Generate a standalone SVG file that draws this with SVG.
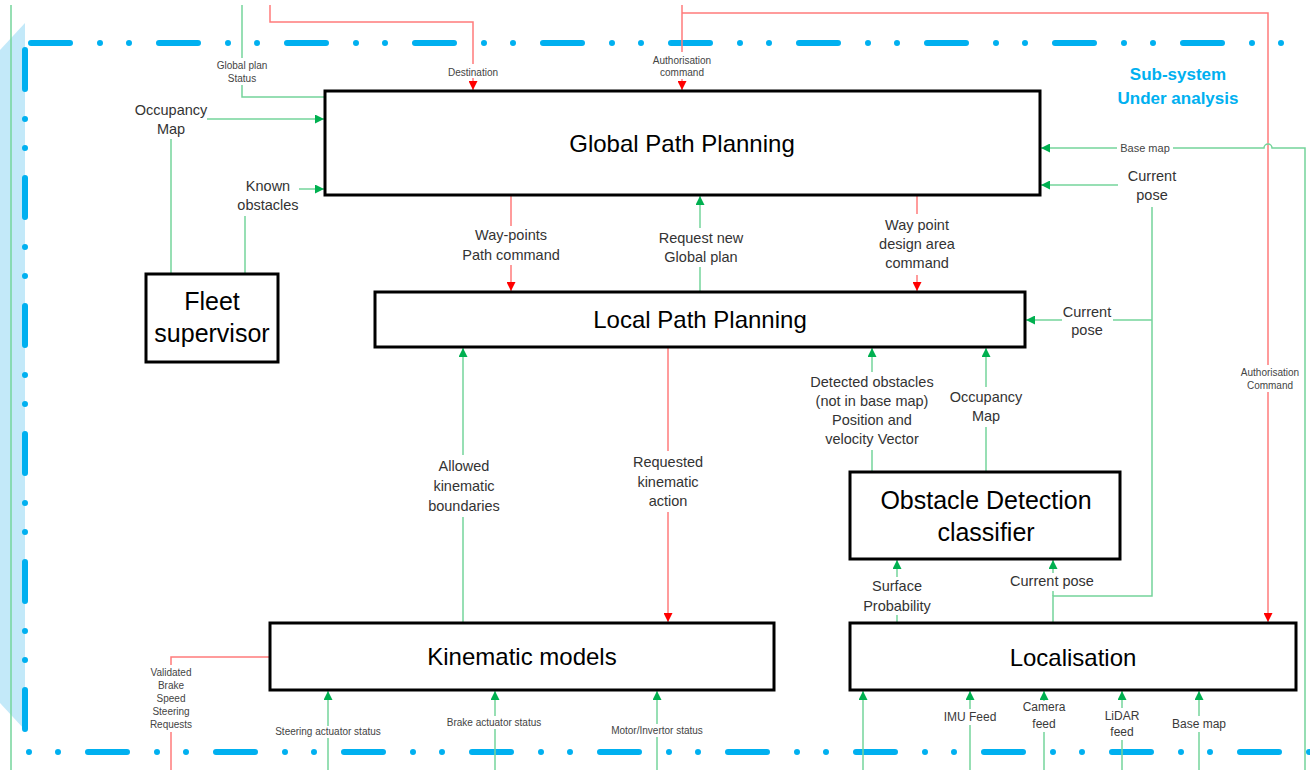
<svg xmlns="http://www.w3.org/2000/svg" width="1310" height="770" viewBox="0 0 1310 770">
  <defs>
    <marker id="ag" viewBox="0 0 9 9" markerUnits="userSpaceOnUse" markerWidth="9" markerHeight="9" refX="9" refY="4.5" orient="auto">
      <path d="M0,0 L9,4.5 L0,9 z" fill="#00b050"/>
    </marker>
    <marker id="ar" viewBox="0 0 9 9" markerUnits="userSpaceOnUse" markerWidth="9" markerHeight="9" refX="9" refY="4.5" orient="auto">
      <path d="M0,0 L9,4.5 L0,9 z" fill="#ff0000"/>
    </marker>
    <style>
      .g{fill:none;stroke:#74d49b;stroke-width:1.5}
      .r{fill:none;stroke:#ff7b7b;stroke-width:1.5}
      .ga{marker-end:url(#ag)}
      .ra{marker-end:url(#ar)}
      .box{fill:#fff;stroke:#000;stroke-width:3}
      .border{fill:none;stroke:#00b0f0;stroke-width:6;stroke-linecap:round}
      .dash1{stroke-dasharray:39 30 0 29 0 30}
      .dash2{stroke-dasharray:0 29 0 30 39 30}
      text{font-family:"Liberation Sans",Arial,sans-serif;text-anchor:middle}
      .t{font-size:24px;fill:#000}
      .t2{font-size:25px;fill:#000}
      .l{font-size:14.5px;fill:#333}
      .m{font-size:12px;fill:#3a3a3a}
      .s{font-size:10px;fill:#444}
      .sub{font-size:17px;font-weight:bold;fill:#00b0f0}
    </style>
  </defs>

  <rect width="1310" height="770" fill="#fff"/>

  <!-- sub-system boundary -->
  <g id="boundary">
    <polygon points="0,50 25,23 25,730 0,703" fill="#c3e9f9"/>
    <path class="border dash1" d="M31,43 H1310"/>
    <path class="border dash1" d="M25,50 V730"/>
    <path class="border dash2" d="M29,752 H1310"/>
    <text class="sub" x="1178" y="80">Sub-system</text>
    <text class="sub" x="1178" y="104">Under analysis</text>
  </g>

  <!-- connectors -->
  <g id="connectors">
    <!-- left edge feed -->
    <path class="g" d="M11,5 V770"/>

    <!-- Fleet supervisor to Global Path Planning -->
    <path class="g" d="M242,5 V58"/>
    <path class="g" d="M242,85 V97 H324"/>
    <path class="g" d="M171,273 V139"/>
    <path class="g ga" d="M207,119 H324"/>
    <path class="g" d="M245,273 V216"/>
    <path class="g ga" d="M299,189 H324"/>

    <!-- external commands -->
    <path class="r" d="M270,5 V22 H473 V64"/>
    <path class="r ra" d="M473,78 V90"/>
    <path class="r" d="M682,5 V52"/>
    <path class="r ra" d="M682,79 V90"/>
    <path class="r" d="M682,13 H1268 V365"/>
    <path class="r ra" d="M1268,392 V622"/>

    <!-- base map feed into Global Path Planning, hopping the red line -->
    <path class="g" d="M1305,770 V148 H1272 A4,4 0 0 0 1264,148 H1173"/>
    <path class="g ga" d="M1117,148 H1041"/>

    <!-- current pose distribution -->
    <path class="g ga" d="M1118,185 H1041"/>
    <path class="g" d="M1053,623 V596 H1152 V207"/>
    <path class="g" d="M1053,596 V591"/>
    <path class="g ga" d="M1053,573 V560"/>
    <path class="g" d="M1152,320 H1113"/>
    <path class="g ga" d="M1062,320 H1026"/>

    <!-- Global <-> Local -->
    <path class="r" d="M511,195 V226"/>
    <path class="r ra" d="M511,265 V291"/>
    <path class="g" d="M700,292 V267"/>
    <path class="g ga" d="M700,228 V196"/>
    <path class="r" d="M917,195 V214"/>
    <path class="r ra" d="M917,275 V291"/>

    <!-- Local <-> Kinematic -->
    <path class="g" d="M463,623 V517"/>
    <path class="g ga" d="M463,455 V348"/>
    <path class="r" d="M668,347 V451"/>
    <path class="r ra" d="M668,512 V622"/>

    <!-- Obstacle Detection to Local -->
    <path class="g" d="M872,472 V450"/>
    <path class="g ga" d="M872,372 V348"/>
    <path class="g" d="M986,472 V427"/>
    <path class="g ga" d="M986,387 V348"/>

    <!-- Localisation to Obstacle Detection -->
    <path class="g" d="M897,623 V615"/>
    <path class="g ga" d="M897,577 V560"/>

    <!-- Kinematic outputs and inputs -->
    <path class="r" d="M270,657 H171 V665"/>
    <path class="r" d="M171,732 V770"/>
    <path class="g" d="M328,770 V738"/>
    <path class="g ga" d="M328,726 V691"/>
    <path class="g" d="M495,770 V729"/>
    <path class="g ga" d="M495,716 V691"/>
    <path class="g" d="M657,770 V737"/>
    <path class="g ga" d="M657,724 V691"/>

    <!-- Localisation inputs -->
    <path class="g ga" d="M863,770 V691"/>
    <path class="g" d="M970,770 V725"/>
    <path class="g ga" d="M970,709 V691"/>
    <path class="g" d="M1044,770 V732"/>
    <path class="g ga" d="M1044,701 V691"/>
    <path class="g" d="M1122,770 V740"/>
    <path class="g ga" d="M1122,708 V691"/>
    <path class="g" d="M1199,770 V732"/>
    <path class="g ga" d="M1199,716 V691"/>

    <!-- connector labels -->
    <text class="s" x="242" y="68.5">Global plan</text>
    <text class="s" x="242" y="81.5">Status</text>
    <text class="s" x="473" y="75.5">Destination</text>
    <text class="s" x="682" y="63.5">Authorisation</text>
    <text class="s" x="682" y="75.5">command</text>
    <text class="s" x="1270" y="375.5">Authorisation</text>
    <text class="s" x="1270" y="388.5">Command</text>
    <text class="l" x="171" y="115">Occupancy</text>
    <text class="l" x="171" y="134">Map</text>
    <text class="l" x="268" y="191">Known</text>
    <text class="l" x="268" y="210">obstacles</text>
    <text x="1145" y="152" style="font-size:11px;fill:#444">Base map</text>
    <text class="l" x="1152" y="181">Current</text>
    <text class="l" x="1152" y="200">pose</text>
    <text class="l" x="511" y="240">Way-points</text>
    <text class="l" x="511" y="260">Path command</text>
    <text class="l" x="701" y="243">Request new</text>
    <text class="l" x="701" y="262">Global plan</text>
    <text class="l" x="917" y="230">Way point</text>
    <text class="l" x="917" y="249">design area</text>
    <text class="l" x="917" y="268">command</text>
    <text class="l" x="1087" y="317">Current</text>
    <text class="l" x="1087" y="335">pose</text>
    <text class="l" x="464" y="471">Allowed</text>
    <text class="l" x="464" y="491">kinematic</text>
    <text class="l" x="464" y="511">boundaries</text>
    <text class="l" x="668" y="467">Requested</text>
    <text class="l" x="668" y="487">kinematic</text>
    <text class="l" x="668" y="506">action</text>
    <text class="l" x="872" y="387">Detected obstacles</text>
    <text class="l" x="872" y="406">(not in base map)</text>
    <text class="l" x="872" y="425">Position and</text>
    <text class="l" x="872" y="444">velocity Vector</text>
    <text class="l" x="986" y="402">Occupancy</text>
    <text class="l" x="986" y="421">Map</text>
    <text class="l" x="897" y="591">Surface</text>
    <text class="l" x="897" y="611">Probability</text>
    <text class="l" x="1052" y="586">Current pose</text>
    <text class="s" x="171" y="675.5">Validated</text>
    <text class="s" x="171" y="688.5">Brake</text>
    <text class="s" x="171" y="701.5">Speed</text>
    <text class="s" x="171" y="714.5">Steering</text>
    <text class="s" x="171" y="727.5">Requests</text>
    <text class="s" x="328" y="734.5">Steering actuator status</text>
    <text class="s" x="494" y="725.5">Brake actuator status</text>
    <text class="s" x="657" y="733.5">Motor/Invertor status</text>
    <text class="m" x="970" y="721">IMU Feed</text>
    <text class="m" x="1044" y="711">Camera</text>
    <text class="m" x="1044" y="728">feed</text>
    <text class="m" x="1122" y="720">LiDAR</text>
    <text class="m" x="1122" y="736">feed</text>
    <text class="m" x="1199" y="728">Base map</text>
  </g>

  <!-- nodes -->
  <g id="global-path-planning">
    <rect class="box" x="325" y="91" width="715" height="104"/>
    <text class="t" x="682" y="152">Global Path Planning</text>
  </g>
  <g id="local-path-planning">
    <rect class="box" x="375" y="292" width="650" height="55"/>
    <text class="t" x="700" y="328">Local Path Planning</text>
  </g>
  <g id="fleet-supervisor">
    <rect class="box" x="146" y="274" width="132" height="88"/>
    <text class="t2" x="212" y="310">Fleet</text>
    <text class="t2" x="212" y="342">supervisor</text>
  </g>
  <g id="obstacle-detection">
    <rect class="box" x="850" y="472" width="270" height="87"/>
    <text class="t2" x="986" y="509">Obstacle Detection</text>
    <text class="t2" x="986" y="541">classifier</text>
  </g>
  <g id="kinematic-models">
    <rect class="box" x="270" y="623" width="504" height="67"/>
    <text class="t" x="522" y="665">Kinematic models</text>
  </g>
  <g id="localisation">
    <rect class="box" x="850" y="623" width="446" height="67"/>
    <text class="t" x="1073" y="666">Localisation</text>
  </g>
</svg>
